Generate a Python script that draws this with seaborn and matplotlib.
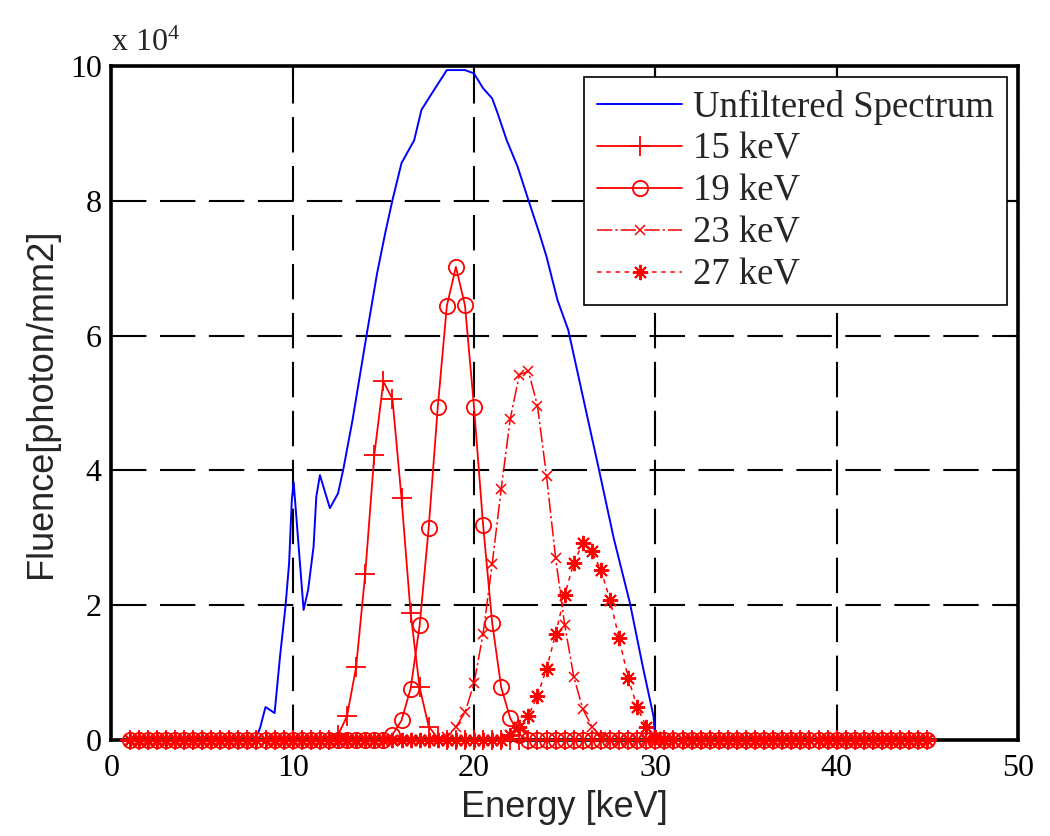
import numpy as np
import pandas as pd
import seaborn as sns
import matplotlib.pyplot as plt

# Energy grid of the filtered spectra [keV]
energy_grid = np.arange(1.0, 45.5, 0.5)

# Unfiltered spectrum (fluence in units of 1e4 photon/mm2)
blue_e = [1.0, 7.5, 8.0, 8.2, 8.5, 9.0, 9.3, 9.6, 9.8, 9.95, 10.05, 10.2, 10.4,
          10.6, 10.85, 11.15, 11.3, 11.5, 12.05, 12.5, 12.8, 13.3, 14.1, 14.65,
          15.1, 15.5, 16.0, 16.7, 17.1, 17.9, 18.5, 19.5, 20.0, 20.5, 21.0,
          21.3, 21.8, 22.4, 23.0, 23.6, 24.0, 24.6, 25.2, 26.0, 26.9, 27.7,
          28.6, 29.3, 29.9, 30.0, 45.0]
blue_f = [0.0, 0.0, 0.05, 0.18, 0.49, 0.40, 1.24, 1.98, 2.62, 3.56, 3.83, 3.31,
          2.62, 1.93, 2.23, 2.87, 3.61, 3.93, 3.44, 3.66, 4.03, 4.75, 6.05, 6.92,
          7.52, 8.01, 8.56, 8.90, 9.35, 9.69, 9.94, 9.94, 9.89, 9.67, 9.52,
          9.30, 8.90, 8.51, 8.01, 7.52, 7.17, 6.53, 6.08, 5.10, 4.00, 3.00,
          2.03, 1.10, 0.35, 0.0, 0.0]

# Filtered spectra: non-zero part of each curve
e15 = [12.5, 13.0, 13.5, 14.0, 14.5, 15.0, 15.5, 16.0, 16.5, 17.0, 17.5, 18.0]
f15 = [0.07, 0.36, 1.09, 2.47, 4.23, 5.32, 5.06, 3.59, 1.89, 0.78, 0.20, 0.03]

e19 = [15.5, 16.0, 16.5, 17.0, 17.5, 18.0, 18.5, 19.0, 19.5, 20.0, 20.5, 21.0,
       21.5, 22.0, 22.5]
f19 = [0.08, 0.29, 0.76, 1.70, 3.15, 4.94, 6.44, 7.02, 6.45, 4.94, 3.19, 1.74,
       0.78, 0.32, 0.08]

e23 = [18.5, 19.0, 19.5, 20.0, 20.5, 21.0, 21.5, 22.0, 22.5, 23.0, 23.5, 24.0,
       24.5, 25.0, 25.5, 26.0, 26.5, 27.0]
f23 = [0.05, 0.19, 0.41, 0.84, 1.58, 2.61, 3.73, 4.77, 5.42, 5.47, 4.96, 3.91,
       2.70, 1.71, 0.94, 0.46, 0.20, 0.05]

e27 = [22.0, 22.5, 23.0, 23.5, 24.0, 24.5, 25.0, 25.5, 26.0, 26.5, 27.0, 27.5,
       28.0, 28.5, 29.0, 29.5, 30.0]
f27 = [0.07, 0.20, 0.36, 0.66, 1.06, 1.57, 2.15, 2.63, 2.92, 2.80, 2.52, 2.08,
       1.51, 0.92, 0.49, 0.20, 0.05]

labels = ["15 keV", "19 keV", "23 keV", "27 keV"]


def on_grid(e, f):
    vals = np.zeros_like(energy_grid)
    for x, y in zip(e, f):
        vals[np.argmin(np.abs(energy_grid - x))] = y
    return vals


frames = [pd.DataFrame({"Energy": blue_e, "Fluence": blue_f,
                        "Series": "Unfiltered Spectrum"})]
for lab, e, f in zip(labels, [e15, e19, e23, e27], [f15, f19, f23, f27]):
    frames.append(pd.DataFrame({"Energy": energy_grid, "Fluence": on_grid(e, f),
                                "Series": lab}))
data = pd.concat(frames, ignore_index=True)

sns.set_style("white")
plt.rcParams["font.family"] = ["Liberation Serif", "DejaVu Serif"]
plt.rcParams["mathtext.fontset"] = "custom"
plt.rcParams["mathtext.rm"] = "Liberation Serif"

fig = plt.figure(figsize=(10.5, 8.36), dpi=100)
ax = fig.add_axes([0.1061, 0.1148, 0.8634, 0.8062])

red = "#ff0000"
styles = {
    "Unfiltered Spectrum": dict(color="#0000ff", lw=1.4, ls="-"),
    "15 keV": dict(color=red, lw=1.3, marker="+", ms=14, mew=1.3, ls="-"),
    "19 keV": dict(color=red, lw=1.3, marker="o", ms=11, mew=1.3,
                   mfc="none", ls="-"),
    "23 keV": dict(color=red, lw=1.1, marker="x", ms=7, mew=1.1,
                   ls=(0, (10, 2, 1.5, 2))),
    "27 keV": dict(color=red, lw=1.1, marker=(8, 2, 0), ms=11, mew=1.4,
                   ls=(0, (3, 3))),
}

for name, st in styles.items():
    sub = data[data["Series"] == name]
    kw = dict(st)
    color = kw.pop("color")
    ls = kw.pop("ls")
    sns.lineplot(data=sub, x="Energy", y="Fluence", ax=ax, color=color,
                 linestyle=ls, label=name, clip_on=False, zorder=3,
                 estimator=None, sort=False, mec=color, **kw)

ax.set_xlim(0, 50)
ax.set_ylim(0, 10)
ax.set_xticks([0, 10, 20, 30, 40, 50])
ax.set_yticks([0, 2, 4, 6, 8, 10])

ax.grid(True, color="black", lw=1.5, ls=(0, (17, 6.5)))
ax.set_axisbelow(True)
for s in ax.spines.values():
    s.set_visible(True)
    s.set_color("black")
    s.set_linewidth(2.6)
ax.tick_params(direction="in", length=7, width=1.5, top=True, right=True,
               labelsize=23, colors="black")
ax.tick_params(axis="x", pad=10)
ax.tick_params(axis="y", pad=7)

ax.set_xlabel("Energy [keV]", family=["Liberation Sans", "DejaVu Sans"],
              fontsize=26, labelpad=5)
ax.set_ylabel("Fluence[photon/mm2]", family=["Liberation Sans", "DejaVu Sans"],
              fontsize=26, labelpad=8)

ax.text(0.0, 1.012, r"x $\mathrm{10^{4}}$", transform=ax.transAxes,
        fontsize=23, ha="left", va="bottom")

leg = ax.legend(loc="upper right", fontsize=26.5, frameon=True, fancybox=False,
                edgecolor="black", framealpha=1, borderaxespad=0.3,
                handlelength=2.3, handletextpad=0.3, labelspacing=0.2,
                borderpad=0.35, numpoints=1)
leg.get_frame().set_linewidth(1.2)

fig.savefig("out.png", dpi=100, facecolor="white")
